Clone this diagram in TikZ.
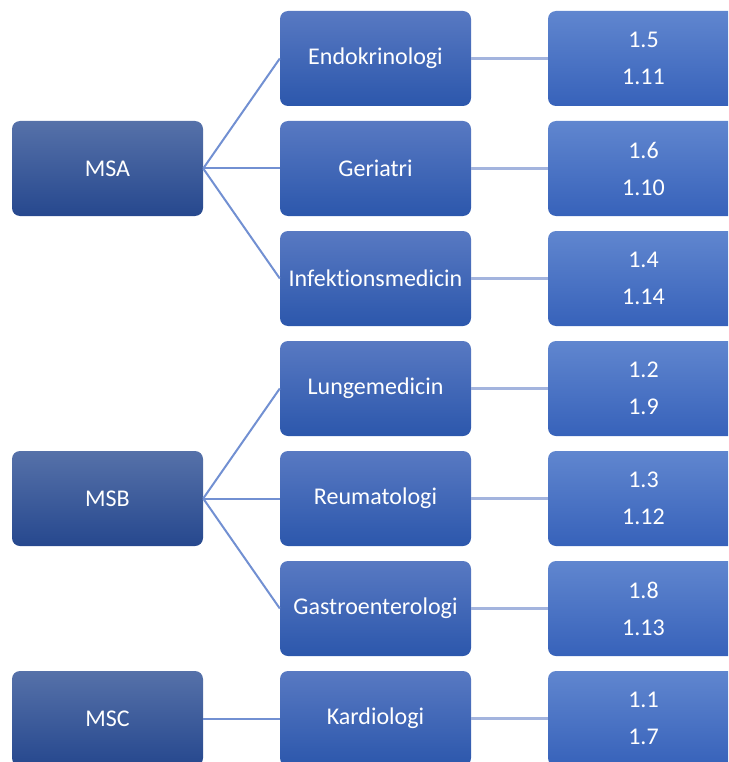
\documentclass[tikz,border=0pt]{standalone}
\usepackage{fontspec}
\setmainfont[Ligatures=NoCommon]{Carlito}
\usetikzlibrary{positioning}
\definecolor{grpTop}{HTML}{5671A9}
\definecolor{grpBot}{HTML}{26488E}
\definecolor{spcTop}{HTML}{5879C2}
\definecolor{spcBot}{HTML}{2C57AC}
\definecolor{codTop}{HTML}{6086CF}
\definecolor{codBot}{HTML}{3762BA}
\definecolor{linkA}{HTML}{7290D2}
\definecolor{linkB}{HTML}{A3B4DE}
\tikzset{
  box/.style={rounded corners=8pt, minimum width=191pt, minimum height=95pt,
    text=white, align=center, inner sep=0pt,
    font=\fontsize{24}{37}\selectfont},
  grpbox/.style={box, top color=grpTop, bottom color=grpBot},
  spcbox/.style={box, top color=spcTop, bottom color=spcBot},
  codbox/.style={box, top color=codTop, bottom color=codBot},
  linka/.style={draw=linkA, line width=2pt},
  linkb/.style={draw=linkB, line width=3pt}
}
\begin{document}
\begin{tikzpicture}[x=1pt,y=-1pt]
  \useasboundingbox (0,0) rectangle (728,762);
  \clip (0,0) rectangle (728,762);
  % groups
  \node[grpbox] (msa) at (107.5,168.5) {MSA};
  \node[grpbox] (msb) at (107.5,498.5) {MSB};
  \node[grpbox] (msc) at (107.5,718.5) {MSC};
  % specialties and codes
  \foreach \i/\name/\txt/\codes in {
      1/endo/Endokrinologi/{1.5\\1.11},
      2/geri/Geriatri/{1.6\\1.10},
      3/infe/Infektionsmedicin/{1.4\\1.14},
      4/lung/Lungemedicin/{1.2\\1.9},
      5/reum/Reumatologi/{1.3\\1.12},
      6/gast/Gastroenterologi/{1.8\\1.13},
      7/kard/Kardiologi/{1.1\\1.7}} {
    \node[spcbox] (\name) at (375.5,{58.5+110*(\i-1)}) {\txt};
    \node[codbox] (c\name) at (643.5,{58.5+110*(\i-1)}) {\codes};
    \draw[linkb] (\name.east) -- (c\name.west);
  }
  % connectors
  \foreach \s in {endo,geri,infe} \draw[linka] (msa.east) -- (\s.west);
  \foreach \s in {lung,reum,gast} \draw[linka] (msb.east) -- (\s.west);
  \draw[linka] (msc.east) -- (kard.west);
\end{tikzpicture}
\end{document}
